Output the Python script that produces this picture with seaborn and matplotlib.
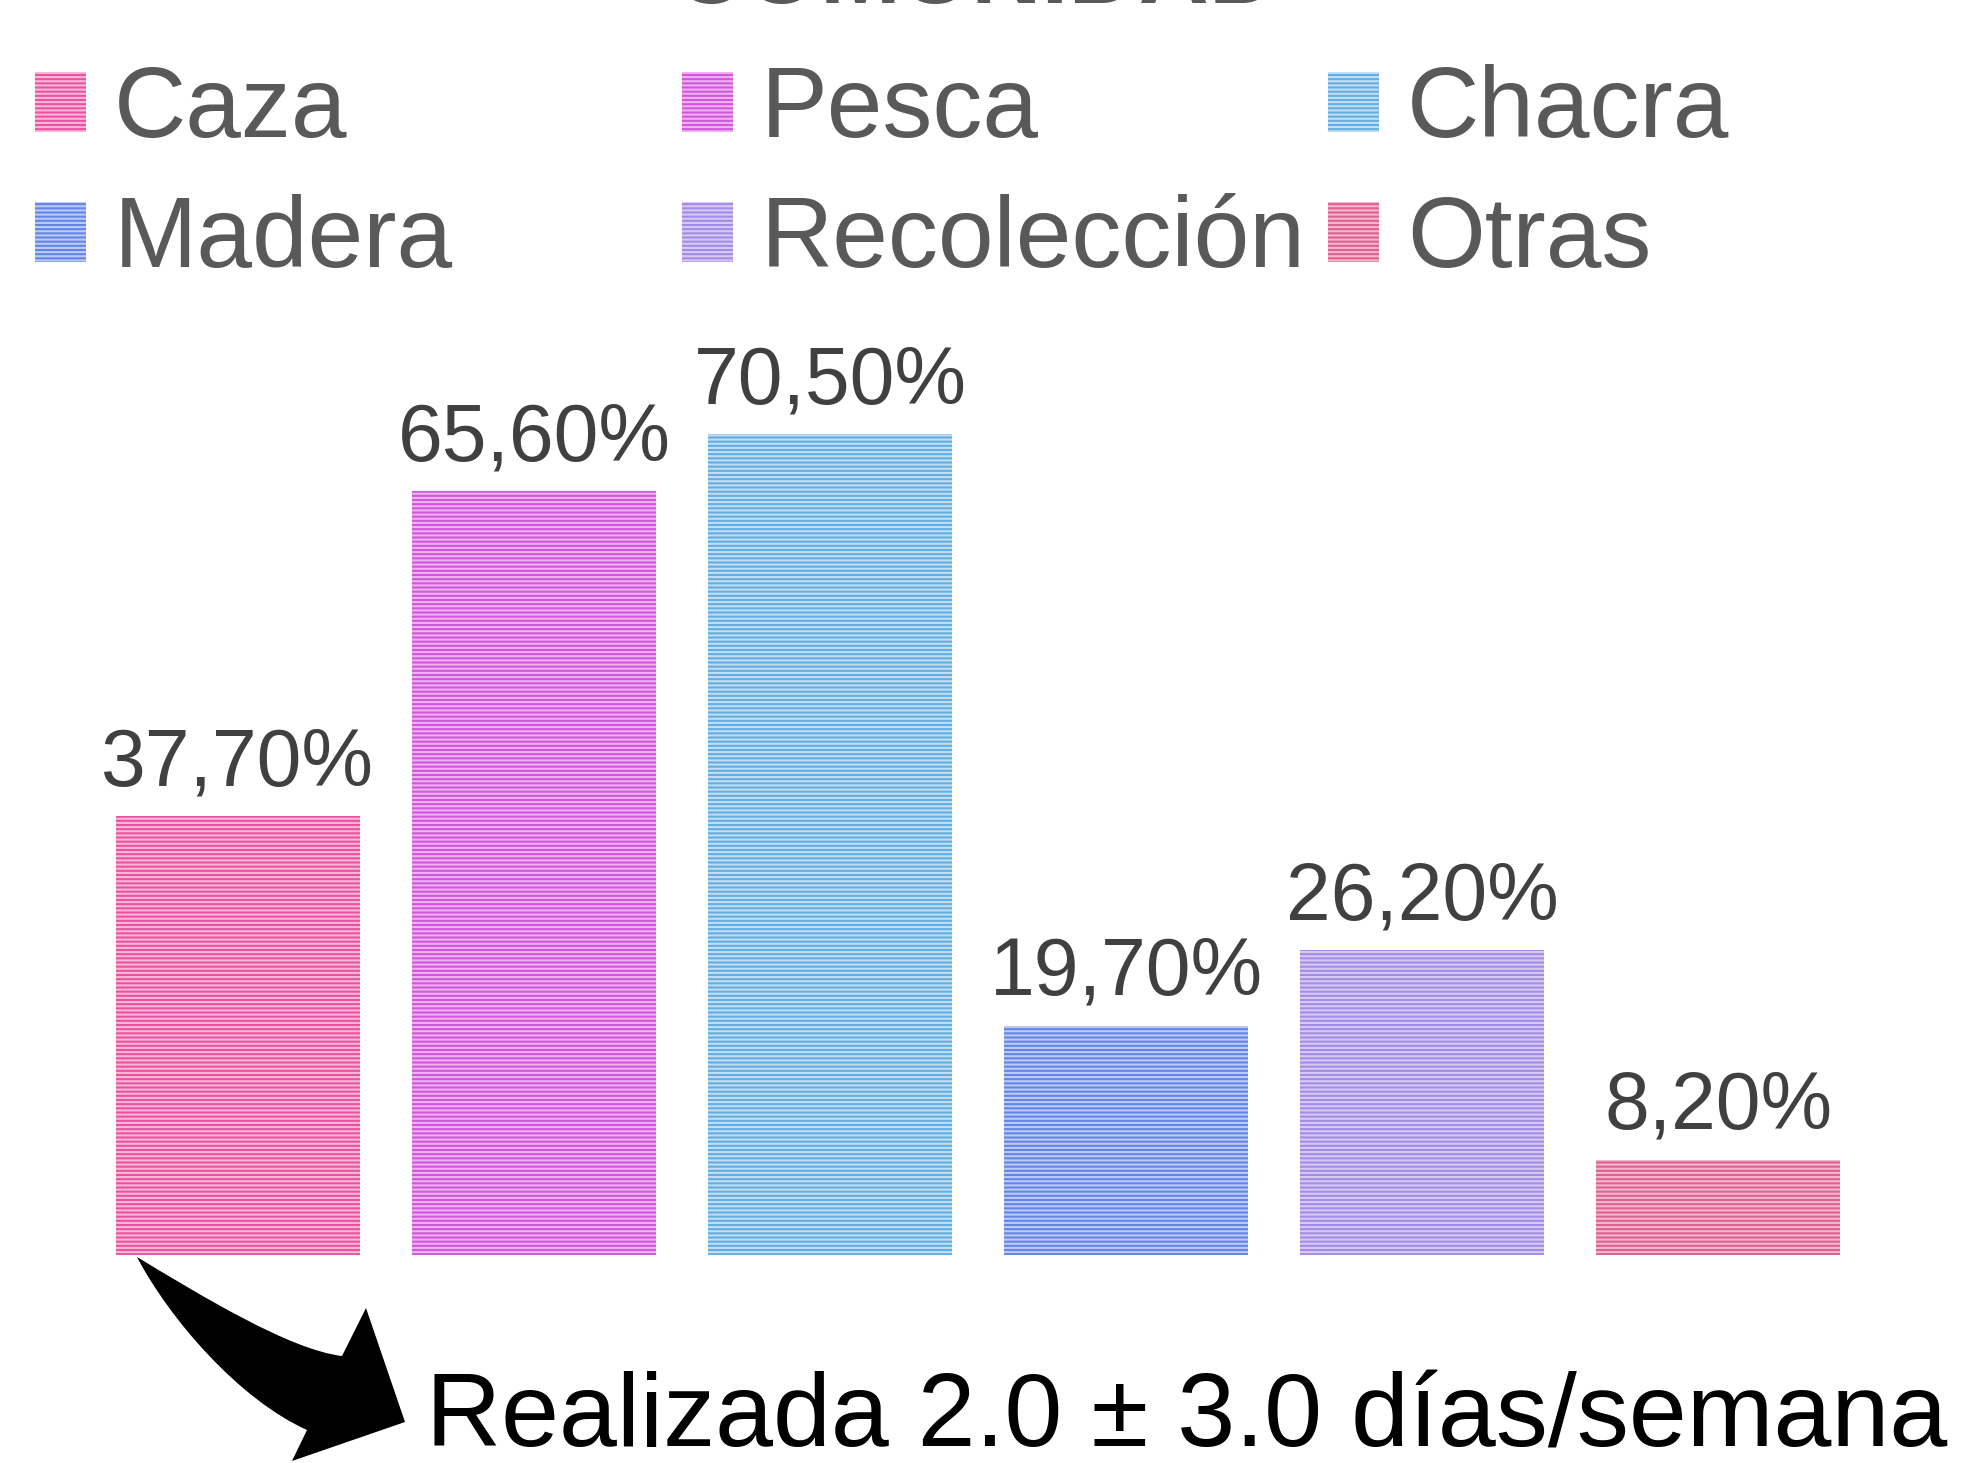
import pandas as pd
import matplotlib.pyplot as plt
import matplotlib.patches as mpatches
from matplotlib.path import Path
import seaborn as sns

categories = ['Caza', 'Pesca', 'Chacra', 'Madera', 'Recolección', 'Otras']
values = [37.7, 65.6, 70.5, 19.7, 26.2, 8.2]
colors = ['#EC52A2', '#D256DB', '#62AEE2', '#6285E8', '#A48BE6', '#DE6290']
stripes = ['#F9B8D8', '#EEB2F2', '#C2DEF3', '#BCCBF4', '#D6CAF5', '#F3B6CA']
title = 'COMUNIDAD'
bottom_note = 'Realizada 2.0 ± 3.0 días/semana'

sns.set_theme(style='white')
plt.rcParams['font.family'] = ['Liberation Sans Narrow', 'Liberation Sans', 'DejaVu Sans']
plt.rcParams['hatch.linewidth'] = 1.5

W, H = 1963, 1463


def px(x, y):
    # pixel position (from top-left) -> figure fraction
    return x / W, 1 - y / H


df = pd.DataFrame({'actividad': categories, 'pct': values})

fig = plt.figure(figsize=(W / 100, H / 100), dpi=100)
ax = fig.add_axes([0.0458, 0.1422, 0.905, 0.7956])
sns.barplot(data=df, x='actividad', y='pct', hue='actividad', palette=colors,
            saturation=1, width=0.824, legend=False, ax=ax)
for bar, light in zip(ax.patches, stripes):
    bar.set_edgecolor(light)
    bar.set_linewidth(0)
    bar.set_hatch('----')

for cont, v in zip(ax.containers, values):
    ax.bar_label(cont, labels=[f'{v:.2f}%'.replace('.', ',')], padding=10,
                 fontsize=58, color='#404040')

ax.set_xlim(-0.5, 5.5)
ax.set_ylim(0, 100)
ax.axis('off')

# legend: 3 columns of equal width
handles = [mpatches.Patch(facecolor=c, edgecolor=s, linewidth=0, hatch='----')
           for c, s in zip(colors, stripes)]
col_x = [35, 682, 1328]
for k in range(3):
    idx = [k, k + 3]
    fig.legend([handles[i] for i in idx], [categories[i] for i in idx],
               loc='upper left', bbox_to_anchor=px(col_x[k], 64), frameon=False,
               fontsize=72, handlelength=0.51, handleheight=0.55, handletextpad=0.28,
               labelspacing=0.36, borderpad=0, borderaxespad=0, labelcolor='#595959')

# title, mostly cut off at the top edge
fig.text(*px(977, 3), title, ha='center', va='baseline', fontsize=70,
         weight='bold', color='#595959', family='Liberation Sans')

# curved block arrow
verts = [(137, 1257), (200, 1295), (290, 1350), (342, 1356),
         (366, 1308), (405, 1422), (292, 1461), (307, 1430),
         (240, 1400), (170, 1320), (137, 1257), (137, 1257)]
codes = [Path.MOVETO, Path.CURVE4, Path.CURVE4, Path.CURVE4,
         Path.LINETO, Path.LINETO, Path.LINETO, Path.LINETO,
         Path.CURVE4, Path.CURVE4, Path.CURVE4, Path.CLOSEPOLY]
arrow = mpatches.PathPatch(Path([px(x, y) for x, y in verts], codes),
                           facecolor='black', edgecolor='none',
                           transform=fig.transFigure)
fig.add_artist(arrow)

fig.text(*px(426, 1446), bottom_note, ha='left', va='baseline', fontsize=75,
         color='black', family='Liberation Sans')

fig.savefig('out.png', dpi=100)
